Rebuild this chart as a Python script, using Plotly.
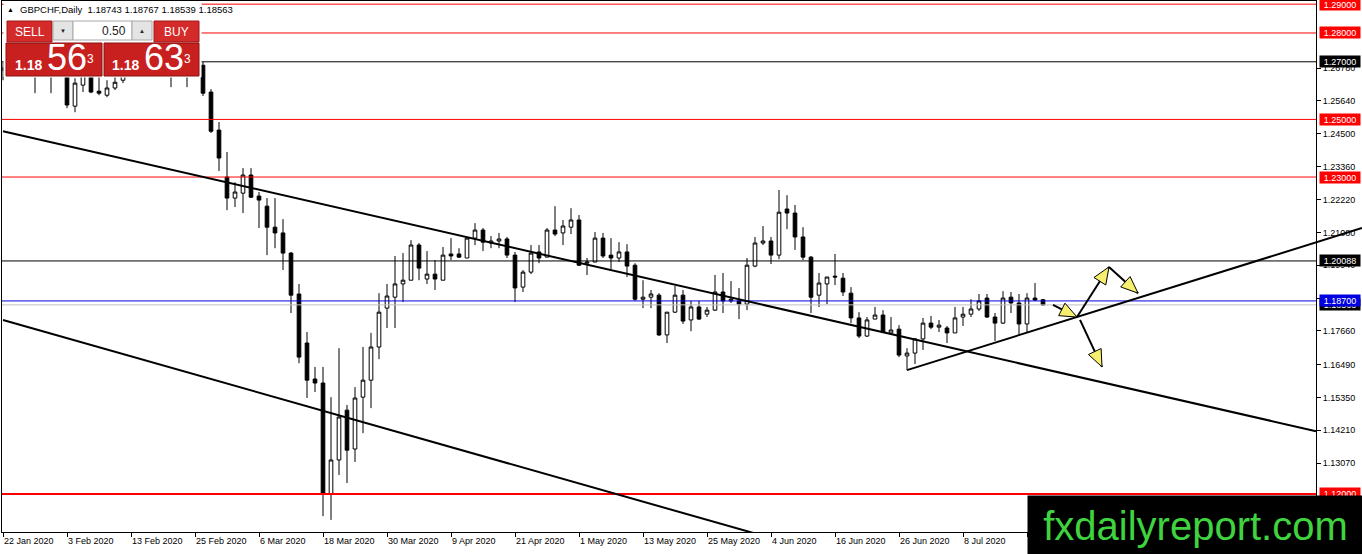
import math
import pandas as pd
import plotly.graph_objects as go

# GBPCHF daily bars
dates = pd.bdate_range('2020-01-22', periods=131)

open_ = [1.2671, 1.2678, 1.2692, 1.2671, 1.2685, 1.2671, 1.2699, 1.2685, 1.2692, 1.2546,
         1.2619, 1.2664, 1.2598, 1.2584, 1.2609, 1.2636, 1.2657, 1.2678, 1.2671, 1.2685,
         1.2692, 1.2678, 1.2685, 1.2699, 1.2685, 1.2688, 1.2595, 1.2463, 1.2300, 1.2227,
         1.2244, 1.2307, 1.2234, 1.2199, 1.2126, 1.2106, 1.2036, 1.1894, 1.1724, 1.1599,
         1.1585, 1.1200, 1.1318, 1.1491, 1.1356, 1.1536, 1.1595, 1.1710, 1.1845, 1.1883,
         1.1929, 1.1942, 1.2064, 1.1946, 1.1963, 1.1942, 1.2033, 1.2033, 1.2019, 1.2088,
         1.2116, 1.2071, 1.2078, 1.2085, 1.2029, 1.1918, 1.1970, 1.2040, 1.2022, 1.2116,
         1.2106, 1.2126, 1.2151, 1.2001, 1.2005, 1.2088, 1.2029, 1.2019, 1.2040, 1.1994,
         1.1876, 1.1883, 1.1890, 1.1752, 1.1831, 1.1890, 1.1804, 1.1849, 1.1824, 1.1838,
         1.1901, 1.1870, 1.1870, 1.1859, 1.1991, 1.2071, 1.2078, 1.2029, 1.2189, 1.2175,
         1.2092, 1.2022, 1.1890, 1.1929, 1.1956, 1.1949, 1.1897, 1.1811, 1.1748, 1.1807,
         1.1821, 1.1759, 1.1772, 1.1679, 1.1689, 1.1738, 1.1793, 1.1779, 1.1776, 1.1759,
         1.1814, 1.1824, 1.1842, 1.1880, 1.1814, 1.1793, 1.1883, 1.1863, 1.1790, 1.1880,
         1.18743]
high = [1.2699, 1.2713, 1.2723, 1.2706, 1.2713, 1.2706, 1.2723, 1.2716, 1.2713, 1.2643,
        1.2671, 1.2685, 1.2650, 1.2636, 1.2650, 1.2671, 1.2692, 1.2706, 1.2699, 1.2713,
        1.2720, 1.2706, 1.2713, 1.2720, 1.2713, 1.2699, 1.2605, 1.2491, 1.2387, 1.2282,
        1.2331, 1.2331, 1.2248, 1.2227, 1.2227, 1.2154, 1.2040, 1.1929, 1.1762, 1.1641,
        1.1641, 1.1536, 1.1706, 1.1509, 1.1571, 1.1710, 1.1759, 1.1897, 1.1929, 1.2026,
        1.2036, 1.2081, 1.2071, 1.2043, 1.2012, 1.2057, 1.2088, 1.2053, 1.2092, 1.2140,
        1.2123, 1.2095, 1.2106, 1.2092, 1.2040, 1.1977, 1.2064, 1.2064, 1.2123, 1.2199,
        1.2151, 1.2192, 1.2168, 1.2019, 1.2109, 1.2106, 1.2088, 1.2074, 1.2067, 1.2001,
        1.1942, 1.1908, 1.1897, 1.1831, 1.1922, 1.1908, 1.1870, 1.1870, 1.1849, 1.1960,
        1.1967, 1.1939, 1.1915, 1.2019, 1.2092, 1.2130, 1.2092, 1.2255, 1.2237, 1.2203,
        1.2126, 1.2026, 1.1967, 1.1953, 1.2033, 1.1967, 1.1918, 1.1831, 1.1814, 1.1849,
        1.1838, 1.1814, 1.1786, 1.1706, 1.1741, 1.1811, 1.1818, 1.1804, 1.1783, 1.1849,
        1.1849, 1.1876, 1.1894, 1.1894, 1.1828, 1.1904, 1.1901, 1.1894, 1.1897, 1.1932,
        1.18767]
low = [1.2636, 1.2657, 1.2664, 1.2657, 1.2591, 1.2657, 1.2591, 1.2661, 1.2539, 1.2525,
       1.2595, 1.2591, 1.2584, 1.2577, 1.2602, 1.2626, 1.2654, 1.2657, 1.2657, 1.2664,
       1.2661, 1.2612, 1.2657, 1.2612, 1.2657, 1.2581, 1.2453, 1.2321, 1.2185, 1.2196,
       1.2175, 1.2227, 1.2123, 1.2029, 1.2053, 1.1977, 1.1828, 1.1654, 1.1533, 1.1554,
       1.1123, 1.1110, 1.1266, 1.1238, 1.1311, 1.1411, 1.1498, 1.1668, 1.1776, 1.1776,
       1.1866, 1.1942, 1.1942, 1.1929, 1.1908, 1.1942, 1.2012, 1.2019, 1.2019, 1.2064,
       1.2043, 1.2053, 1.2053, 1.2019, 1.1866, 1.1901, 1.1963, 1.2001, 1.2022, 1.2095,
       1.2064, 1.2102, 1.1991, 1.1960, 1.2005, 1.2019, 1.1981, 1.2005, 1.1953, 1.1870,
       1.1845, 1.1845, 1.1748, 1.1724, 1.1828, 1.1790, 1.1765, 1.1804, 1.1814, 1.1835,
       1.1828, 1.1863, 1.1807, 1.1838, 1.1987, 1.2064, 1.1998, 1.2015, 1.2119, 1.2047,
       1.2012, 1.1828, 1.1849, 1.1859, 1.1925, 1.1887, 1.1793, 1.1741, 1.1745, 1.1807,
       1.1759, 1.1752, 1.1675, 1.1630, 1.1651, 1.1700, 1.1772, 1.1762, 1.1724, 1.1759,
       1.1783, 1.1814, 1.1835, 1.1811, 1.1731, 1.1790, 1.1828, 1.1755, 1.1759, 1.1870,
       1.18539]
close = [1.2678, 1.2692, 1.2671, 1.2685, 1.2671, 1.2699, 1.2685, 1.2706, 1.2550, 1.2626,
         1.2664, 1.2595, 1.2591, 1.2609, 1.2629, 1.2657, 1.2678, 1.2671, 1.2685, 1.2692,
         1.2678, 1.2685, 1.2699, 1.2685, 1.2692, 1.2591, 1.2459, 1.2366, 1.2227, 1.2248,
         1.2307, 1.2230, 1.2220, 1.2126, 1.2106, 1.2036, 1.1890, 1.1675, 1.1595, 1.1585,
         1.1200, 1.1318, 1.1467, 1.1352, 1.1533, 1.1595, 1.1710, 1.1831, 1.1887, 1.1929,
         1.1942, 1.2064, 1.1984, 1.1963, 1.1946, 1.2029, 1.2026, 1.2022, 1.2088, 1.2116,
         1.2074, 1.2078, 1.2085, 1.2029, 1.1915, 1.1970, 1.2036, 1.2019, 1.2116, 1.2102,
         1.2130, 1.2151, 1.1994, 1.2005, 1.2088, 1.2026, 1.2019, 1.2040, 1.1991, 1.1876,
         1.1883, 1.1894, 1.1752, 1.1831, 1.1890, 1.1800, 1.1849, 1.1807, 1.1838, 1.1901,
         1.1870, 1.1876, 1.1859, 1.1994, 1.2071, 1.2078, 1.2029, 1.2178, 1.2175, 1.2092,
         1.2022, 1.1883, 1.1932, 1.1953, 1.1953, 1.1901, 1.1811, 1.1748, 1.1804, 1.1821,
         1.1762, 1.1769, 1.1682, 1.1689, 1.1738, 1.1793, 1.1779, 1.1786, 1.1759, 1.1811,
         1.1824, 1.1842, 1.1870, 1.1814, 1.1793, 1.1880, 1.1863, 1.1790, 1.1880, 1.1873,
         1.18563]
ask = 1.18633

# labels printed on the price scale
price_ticks = [1.13070, 1.14210, 1.15350, 1.16490, 1.17660, 1.18800, 1.19940,
               1.21080, 1.22220, 1.23360, 1.24500, 1.25640, 1.26780]

# horizontal levels drawn on the chart
levels = [1.29000, 1.28000, 1.27000, 1.25000, 1.23000, 1.20088, 1.18700, 1.12000]
level_colors = ['#ff0000', '#ff0000', '#000000', '#ff0000', '#ff0000', '#000000', '#0000e0', '#ff0000']
level_widths = [1, 1, 1, 1, 1, 1, 1, 2]

# trendlines / arrows as (bar index, price) anchors
trend_upper = [(0, 1.2459), (164.125, 1.1418)]
trend_lower = [(0, 1.1804), (94, 1.1063)]
trend_rising = [(113, 1.1630), (169.875, 1.2123)]
arrows = [
    ((131.25, 1.1856), (134.25, 1.1814)),
    ((134.25, 1.1814), (138.25, 1.1988)),
    ((138.25, 1.1988), (141.875, 1.1897)),
    ((134.625, 1.1804), (137.375, 1.1641)),
]

#### frame ####
W, H = 1362, 554
ML, MR, MT, MB = 2, 46, 1, 22
PW, PH = W - ML - MR, H - MT - MB
X_RANGE = [-0.125, 164.125]
Y_RANGE = [1.1068, 1.2911]
FONT = 'Liberation Sans, Arial, sans-serif'


def bar2paper(b):
    return (b - X_RANGE[0]) / (X_RANGE[1] - X_RANGE[0])


def price2paper(p):
    return (p - Y_RANGE[0]) / (Y_RANGE[1] - Y_RANGE[0])


def pix2paper(x, y):
    return (x - ML) / PW, (H - MB - y) / PH


def to_pix(b, p):
    return ML + bar2paper(b) * PW, H - MB - price2paper(p) * PH


def rect(x0, y0, x1, y1, fill, line=None):
    (a, b), (c, d) = pix2paper(x0, y0), pix2paper(x1, y1)
    return dict(type='rect', xref='paper', yref='paper', x0=a, y0=b, x1=c, y1=d,
                fillcolor=fill, line=dict(color=line or fill, width=1), layer='above')


def pix_text(x, y, text, size=12, color='white', xanchor='center', **kw):
    px, py = pix2paper(x, y)
    return dict(xref='paper', yref='paper', x=px, y=py, text=text, showarrow=False,
                xanchor=xanchor, yanchor=kw.pop('yanchor', 'middle'),
                font=dict(family=FONT, size=size, color=color), **kw)


fig = go.Figure(go.Candlestick(
    x=list(range(len(close))), open=open_, high=high, low=low, close=close,
    increasing=dict(fillcolor='white', line=dict(color='black', width=1)),
    decreasing=dict(fillcolor='black', line=dict(color='black', width=1)),
    whiskerwidth=0, hoverinfo='skip', showlegend=False,
))

shapes = []
### horizontal levels + bid line ###
for lv, col, w in zip(levels, level_colors, level_widths):
    shapes.append(dict(type='line', xref='paper', yref='y', x0=0, x1=1, y0=lv, y1=lv,
                       line=dict(color=col, width=w), layer='above'))
shapes.append(dict(type='line', xref='paper', yref='y', x0=0, x1=1, y0=close[-1], y1=close[-1],
                   line=dict(color='#c0c0c0', width=1), layer='above'))

### trendlines ###
for (b0, p0), (b1, p1) in (trend_upper, trend_lower, trend_rising):
    shapes.append(dict(type='line', xref='paper', yref='y', x0=bar2paper(b0), y0=p0,
                       x1=bar2paper(b1), y1=p1, line=dict(color='black', width=2), layer='above'))

### arrows: black shaft, yellow head ###
for start, end in arrows:
    x0, y0 = to_pix(*start)
    x1, y1 = to_pix(*end)
    n = math.hypot(x1 - x0, y1 - y0)
    ux, uy = (x1 - x0) / n, (y1 - y0) / n
    a, b = pix2paper(x0, y0)
    c, d = pix2paper(x1, y1)
    shapes.append(dict(type='line', xref='paper', yref='paper', x0=a, y0=b, x1=c, y1=d,
                       line=dict(color='black', width=2), layer='above'))
    bx, by = x1 - ux * 17, y1 - uy * 17
    pts = [(x1, y1), (bx - uy * 7, by + ux * 7), (bx + uy * 7, by - ux * 7)]
    path = 'M ' + ' L '.join('%.5f,%.5f' % pix2paper(*q) for q in pts) + ' Z'
    shapes.append(dict(type='path', xref='paper', yref='paper', path=path,
                       fillcolor='#f7ef6e', line=dict(color='black', width=1), layer='above'))

### one-click trading panel ###
shapes += [
    rect(4, 2, 201, 77, 'white'),
    rect(7, 21, 52, 42, '#d42a2a', '#a01818'),
    rect(53, 21, 73, 40, '#e4e4e4', '#a8a8a8'),
    rect(73, 21, 132, 40, 'white', '#a8a8a8'),
    rect(132, 21, 152, 40, '#e4e4e4', '#a8a8a8'),
    rect(154, 21, 199, 42, '#d42a2a', '#a01818'),
    rect(6, 43, 102, 76, '#c81f1f', '#8c1212'),
    rect(104, 43, 199, 76, '#c81f1f', '#8c1212'),
]

annotations = []
# level price tags on the scale
tags = list(zip(levels, level_colors)) + [(close[-1], '#000000')]
tags.sort(key=lambda t: t[1] == '#0000e0')  # blue tag drawn last (on top)
for lv, col in tags:
    annotations.append(dict(xref='paper', yref='y', x=1, y=lv, xanchor='left', xshift=3,
                            text='%.5f' % lv, showarrow=False, bgcolor=col, borderpad=0,
                            width=40, height=11, font=dict(family=FONT, size=9, color='white')))

# header
hdr = 'GBPCHF,Daily  %.5f %.5f %.5f %.5f' % (open_[-1], high[-1], low[-1], close[-1])
annotations.append(pix_text(10, 10, '▲', size=7, color='black'))
annotations.append(pix_text(18, 10, hdr, size=9.5, color='black', xanchor='left'))

# panel texts
annotations += [
    pix_text(29.5, 31.5, 'SELL', size=12),
    pix_text(63, 30.5, '▼', size=6, color='#222'),
    pix_text(128, 30.5, '0.50', size=12, color='#222', xanchor='right'),
    pix_text(142, 30.5, '▲', size=6, color='#222'),
    pix_text(176.5, 31.5, 'BUY', size=12),
]
for cx, p in ((54, close[-1]), (151.5, ask)):
    s = '%.5f' % p
    annotations.append(pix_text(
        cx, 80, '<span style="font-size:14px"><b>%s</b></span> <span style="font-size:36px">%s</span><sup>%s</sup>'
        % (s[:4], s[4:6], s[6]), size=17, yanchor='bottom'))

# watermark box
lx, ly = pix2paper(1027, 495)
annotations.append(dict(xref='paper', yref='paper', x=lx, y=ly, xanchor='left', yanchor='top',
                        width=335, height=59, bgcolor='black', borderpad=0, showarrow=False,
                        text='fxdailyreport.com', valign='middle',
                        font=dict(family=FONT, size=40, color='#3fd43f')))

fig.update_layout(
    width=W, height=H,
    margin=dict(l=ML, r=MR, t=MT, b=MB),
    paper_bgcolor='white', plot_bgcolor='white',
    boxgap=0.35,
    shapes=shapes, annotations=annotations,
    font=dict(family=FONT, size=9, color='black'),
)
fig.update_xaxes(
    range=X_RANGE, rangeslider_visible=False, showgrid=False, zeroline=False,
    tickvals=list(range(0, len(dates), 8)),
    ticktext=[d.strftime('%-d %b %Y') for d in dates[::8]],
    ticks='outside', ticklen=4, tickcolor='black', ticklabelposition='outside right',
    showline=True, linecolor='black', linewidth=1, mirror=True,
    tickfont=dict(family=FONT, size=9, color='black'),
)
fig.update_yaxes(
    range=Y_RANGE, side='right', showgrid=False, zeroline=False,
    tickvals=price_ticks, ticktext=['%.5f' % v for v in price_ticks],
    ticks='outside', ticklen=4, tickcolor='black',
    showline=True, linecolor='black', linewidth=1, mirror=True,
    tickfont=dict(family=FONT, size=9, color='black'),
)

fig.write_html("out.html", config={'displayModeBar': False},
               post_script="document.body.style.margin='0px';")
